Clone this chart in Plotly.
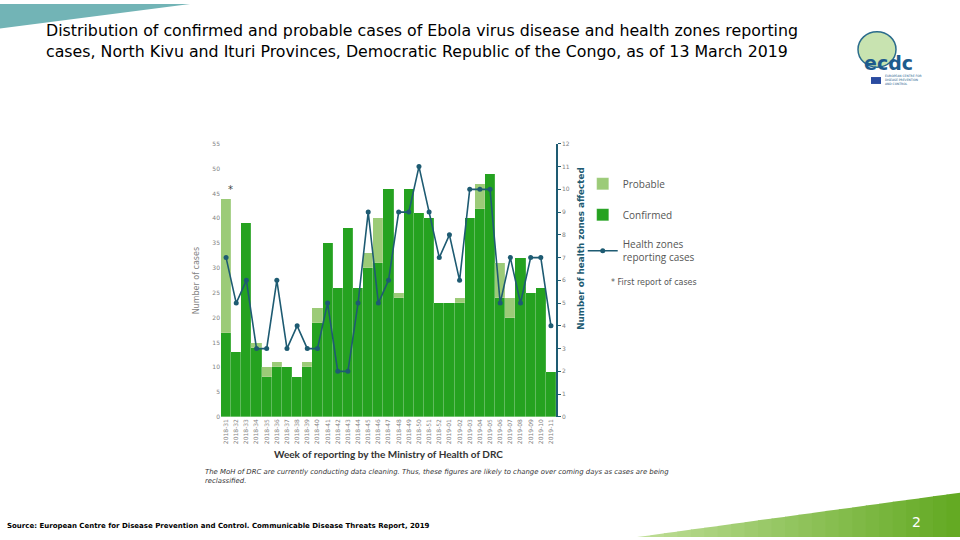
import plotly.graph_objects as go

# weeks of reporting (2018-31 .. 2019-11)
weeks = ['2018-%d' % w for w in range(31, 53)] + ['2019-%02d' % w for w in range(1, 12)]

confirmed = [17, 13, 39, 14, 8, 10, 10, 8, 10, 19, 35, 26, 38, 26, 30, 31, 46, 24, 46, 41, 40,
             23, 23, 23, 40, 42, 49, 24, 20, 32, 25, 26, 9]
probable = [27, 0, 0, 1, 2, 1, 0, 0, 1, 3, 0, 0, 0, 0, 3, 9, 0, 1, 0, 0, 0,
            0, 0, 1, 0, 5, 0, 7, 4, 0, 0, 0, 0]
health_zones = [7, 5, 6, 3, 3, 6, 3, 4, 3, 3, 5, 2, 2, 5, 9, 5, 6, 9, 9, 11, 9,
                7, 8, 6, 10, 10, 10, 5, 7, 5, 7, 7, 4]

GREEN = '#25a220'
LIGHT = '#9ccb78'
TEAL = '#1e5b72'
GREY = '#7f7f7f'

fig = go.Figure()
fig.add_trace(go.Bar(x=weeks, y=confirmed, name='Confirmed', marker_color=GREEN,
                     marker_line=dict(color='rgba(255,255,255,0.25)', width=0.6),
                     legendrank=2, legendgroup='c'))
fig.add_trace(go.Bar(x=weeks, y=probable, name='Probable', marker_color=LIGHT,
                     marker_line=dict(color='rgba(255,255,255,0.25)', width=0.6),
                     legendrank=1, legendgroup='p'))
fig.add_trace(go.Scatter(x=weeks, y=health_zones, name='Health zones<br>reporting cases',
                         yaxis='y2', mode='lines+markers',
                         line=dict(color=TEAL, width=1.6), marker=dict(size=5, color=TEAL),
                         legendrank=3, legendgroup='h'))

# first report of cases
fig.add_annotation(x=weeks[0], y=confirmed[0] + probable[0], text='*', showarrow=False,
                   xshift=4, yshift=9, font=dict(size=10, color='#444'))

fig.update_layout(
    width=960, height=540,
    margin=dict(l=0, r=0, t=0, b=0),
    paper_bgcolor='white', plot_bgcolor='white',
    barmode='stack', bargap=0,
    font=dict(family='DejaVu Sans', color=GREY),
    showlegend=True,
    legend=dict(x=0.607, y=0.69, xanchor='left', yanchor='top', tracegroupgap=12,
                font=dict(size=10, color='#555', family='Open Sans'), itemwidth=30),
    xaxis=dict(type='category', domain=[0.2302, 0.5792], range=[-0.5, 32.5], tickangle=-90,
               tickfont=dict(size=6, color=GREY), showgrid=False, showline=False,
               ticks='', fixedrange=True),
    yaxis=dict(domain=[0.2254, 0.7376], range=[0, 55], dtick=5, showgrid=False,
               tickfont=dict(size=6, color=GREY), ticks='', showline=False,
               zeroline=False),
    yaxis2=dict(overlaying='y', side='right', range=[0, 12], dtick=1, showgrid=False,
                showline=True, linecolor=TEAL, linewidth=1.5, ticks='outside',
                ticklen=3, tickcolor=TEAL, tickfont=dict(size=6, color=GREY),
                zeroline=False),
)


def note(text, x, y, size, color, xanchor='center', yanchor='middle', **kw):
    # paper-placed text, x and y given in screen pixels
    fig.add_annotation(text=text, xref='paper', yref='paper', x=x / 960, y=1 - y / 540,
                       xanchor=xanchor, yanchor=yanchor, showarrow=False,
                       font=dict(size=size, color=color, family=kw.pop('family', 'DejaVu Sans')),
                       **kw)


# axis titles
note('Number of cases', 196, 280, 8, GREY, textangle=-90)
note('<b>Number of health zones affected</b>', 581, 248, 8.8, TEAL, textangle=-90)
note('<b>Week of reporting by the Ministry of Health of DRC</b>', 388, 456, 10, '#333',
     family='Lato')
note('<i>The MoH of DRC are currently conducting data cleaning. Thus, these figures '
     'are likely to change over coming days as cases are being<br>reclassified.</i>',
     203, 468, 6.9, '#333', xanchor='left', yanchor='top', align='left')
note('* First report of cases', 609, 282, 8, '#555', xanchor='left')

# slide title
note('Distribution of confirmed and probable cases of Ebola virus disease and health zones reporting<br>'
     'cases, North Kivu and Ituri Provinces, Democratic Republic of the Congo, as of 13 March 2019',
     44, 15, 15.8, 'black', xanchor='left', yanchor='top', align='left')

# source
note('<b>Source: European Centre for Disease Prevention and Control. Communicable Disease Threats Report, 2019</b>',
     5, 529, 7, 'black', xanchor='left')

# slide decoration: teal corner
fig.add_shape(type='path', xref='paper', yref='paper', path='M 0,1 L 0.198,1 L 0,0.954 Z',
              fillcolor='#72b4b6', line_width=0, layer='above')

# green wedge bottom right, drawn as bands to imitate the gradient
x0, x1 = 637 / 960, 1.0
ytop = 1 - 495 / 540
n = 24
c0 = (190, 222, 150)
c1 = (100, 170, 35)
for i in range(n):
    a = x0 + (x1 - x0) * i / n
    b = x0 + (x1 - x0) * (i + 1) / n
    ya = ytop * (a - x0) / (x1 - x0)
    yb = ytop * (b - x0) / (x1 - x0)
    t = i / (n - 1)
    col = 'rgb(%d,%d,%d)' % tuple(int(c0[k] + (c1[k] - c0[k]) * t) for k in range(3))
    fig.add_shape(type='path', xref='paper', yref='paper',
                  path='M %f,0 L %f,%f L %f,%f L %f,0 Z' % (a, a, ya, b + 0.001, yb, b + 0.001),
                  fillcolor=col, line_width=0, layer='above')
note('2', 916, 525, 14, 'white')

# ecdc logo, rough
fig.add_shape(type='circle', xref='paper', yref='paper', x0=858 / 960, x1=896 / 960,
              y0=1 - 64 / 540, y1=1 - 28 / 540, fillcolor='#c8e3b0',
              line=dict(color='#2b6c8c', width=1.5))
note('<b>ecdc</b>', 888, 60, 19, '#1e5b8c')
fig.add_shape(type='rect', xref='paper', yref='paper', x0=871 / 960, x1=881 / 960,
              y0=1 - 81 / 540, y1=1 - 74 / 540, fillcolor='#2a4ba0', line_width=0)
note('EUROPEAN CENTRE FOR<br>DISEASE PREVENTION<br>AND CONTROL', 883, 77.5, 3, '#1e5b8c',
     xanchor='left', align='left')

fig.write_html('out.html', config={'displayModeBar': False},
               post_script="document.documentElement.style.overflow='hidden';"
                           "document.body.style.margin='0';document.body.style.overflow='hidden';")
